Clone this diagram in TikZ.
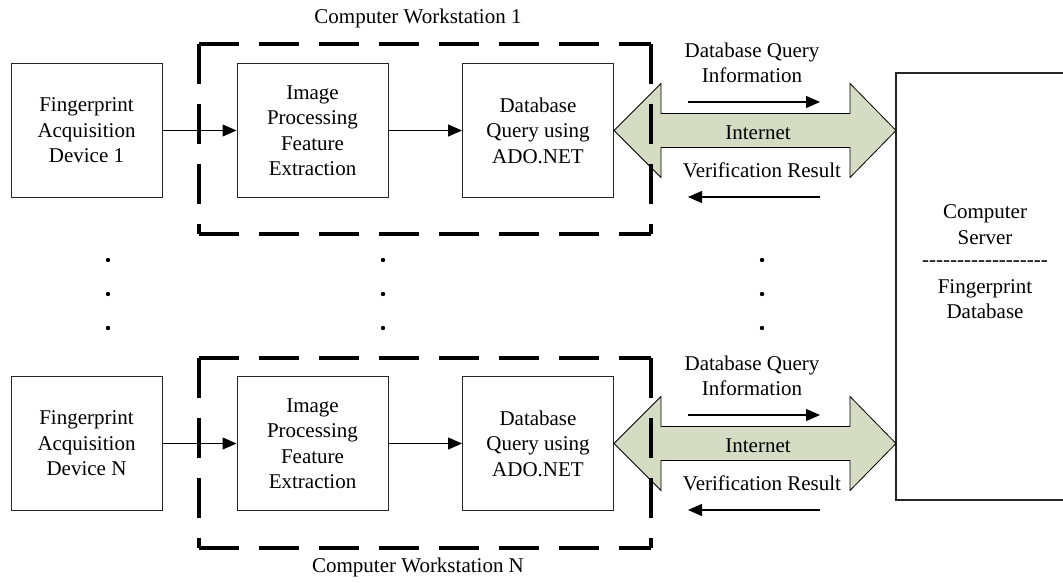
\documentclass[tikz,border=0pt]{standalone}
\usepackage{fontspec}
\setmainfont{Liberation Serif}
\usetikzlibrary{arrows.meta,calc}
\definecolor{netfill}{RGB}{214,220,196}
\begin{document}
\begin{tikzpicture}[x=1pt,y=-1pt,
  txt/.style={font=\fontsize{21}{25.5}\selectfont, align=center, inner sep=0pt},
  box/.style={txt, draw=black!85, line width=1pt, minimum width=151pt, minimum height=134pt},
  conn/.style={line width=1.1pt, -{Triangle[length=14pt,width=12pt]}},
  wsline/.style={line width=3.6pt, dash pattern=on 40pt off 20pt},
  netarrow/.style={fill=netfill, draw=black, line width=0.8pt},
  dotstyle/.style={fill=black}
]
\useasboundingbox (0,0) rectangle (1063,583);

% ---------- Workstation 1 ----------
\node[box] (dev1) at (86.5,130.5) {Fingerprint\\Acquisition\\Device 1};
\node[box] (ip1) at (312.5,130.5) {Image\\Processing\\Feature\\Extraction};
\node[box] (db1) at (538,130.5) {Database\\Query using\\ADO.NET};
\draw[conn] (dev1) -- (ip1);
\draw[conn] (ip1) -- (db1);

% ---------- Workstation N ----------
\node[box] (devN) at (86.5,443.5) {Fingerprint\\Acquisition\\Device N};
\node[box] (ipN) at (312.5,443.5) {Image\\Processing\\Feature\\Extraction};
\node[box] (dbN) at (538,443.5) {Database\\Query using\\ADO.NET};
\draw[conn] (devN) -- (ipN);
\draw[conn] (ipN) -- (dbN);

% ---------- Server ----------
\coordinate (srvTR) at (1063,73);
\coordinate (srvTL) at (896,73);
\coordinate (srvBL) at (896,500);
\coordinate (srvBR) at (1063,500);
\draw[line width=1.2pt, draw=black!85] (srvTR) -- (srvTL) -- (srvBL) -- (srvBR);
\node[txt] (srvtext) at (985,262) {Computer\\Server\\[-3pt]-{}-{}-{}-{}-{}-{}-{}-{}-{}-{}-{}-{}-{}-{}-{}-{}-{}-\\[1pt]Fingerprint\\Database};

% ---------- Internet double arrows ----------
\foreach \d in {db1,dbN}{
  \begin{scope}[shift={(\d.east)}]
    \draw[netarrow] (0,0) -- (47,-47) -- (47,-17) -- (236,-17) -- (236,-47) -- (282,0)
      -- (236,47) -- (236,17) -- (47,17) -- (47,47) -- cycle;
    \node[txt] at (144,2) {Internet};
  \end{scope}
}

% labels and small arrows, top
\node[txt] (q1) at (752,63) {Database Query\\Information};
\coordinate (q1a) at (688,102);
\coordinate (q1b) at (820,102);
\draw[conn] (q1a) -- (q1b);
\node[txt] (v1) at (762,170) {Verification Result};
\coordinate (v1a) at (820,197);
\coordinate (v1b) at (688,197);
\draw[conn] (v1a) -- (v1b);

% labels and small arrows, bottom
\node[txt] (qN) at (752,376) {Database Query\\Information};
\coordinate (qNa) at (688,415);
\coordinate (qNb) at (820,415);
\draw[conn] (qNa) -- (qNb);
\node[txt] (vN) at (762,483) {Verification Result};
\coordinate (vNa) at (820,510);
\coordinate (vNb) at (688,510);
\draw[conn] (vNa) -- (vNb);

% ---------- dashed workstation frames ----------
\foreach \t/\b in {44/234, 358/548}{
  \draw[wsline] (199,\t) -- (651,\t);
  \draw[wsline] (199,\b) -- (651,\b);
  \draw[wsline] (199,\t) -- (199,\b);
  \draw[wsline] (651,\t) -- (651,\b);
}
\node[txt] (ws1) at (418,18) {Computer Workstation 1};
\node[txt] (wsN) at (418,567) {Computer Workstation N};

% ---------- dots ----------
\foreach \x in {108,383,762}{
  \foreach \y in {260,294,328}{
    \fill[dotstyle] (\x,\y) circle (2.2pt);
  }
}
\end{tikzpicture}
\end{document}
